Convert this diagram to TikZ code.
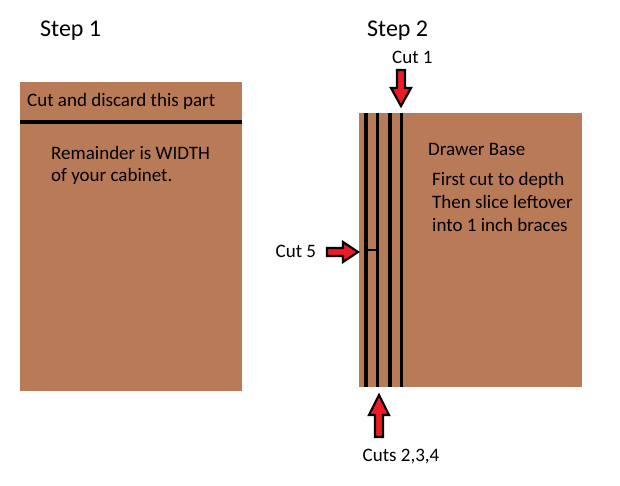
\documentclass[tikz,border=0pt]{standalone}
\usepackage{fontspec}
\setmainfont{Carlito}
\definecolor{wood}{RGB}{185,122,87}
\definecolor{cutred}{RGB}{237,28,36}
\begin{document}
\begin{tikzpicture}[x=1pt,y=-1pt,
  board/.style={fill=wood,draw=none},
  cutline/.style={draw=black,line width=3.2pt},
  blockarrow/.style={fill=cutred,draw=black,line width=2.2pt,line join=miter},
  lbl/.style={anchor=base west,inner sep=0pt,font=\fontsize{19}{22}\selectfont},
  steplbl/.style={anchor=base west,inner sep=0pt,font=\fontsize{24}{28}\selectfont}]
\useasboundingbox[fill=white] (0,0) rectangle (620,486);
% Step 1
\node[steplbl] (s1) at (40,37) {Step 1};
\fill[board] (20,82) rectangle (242,391);
\coordinate (l1) at (20,122);
\coordinate (l2) at (242,122);
\draw[cutline] (l1) -- (l2);
\node[lbl] (discard) at (27,106.5) {Cut and discard this part};
\node[lbl] (rem1) at (51,160) {Remainder is WIDTH};
\node[lbl] (rem2) at (51,182) {of your cabinet.};
% Step 2
\node[steplbl] (s2) at (367,37) {Step 2};
\fill[board] (359,113) rectangle (582,387);
\foreach \x/\n in {366/a,377.5/b,390/c,401.5/d}{
  \coordinate (t\n) at (\x,113);
  \coordinate (b\n) at (\x,387);
  \draw[cutline] (t\n) -- (b\n);
}
\coordinate (h1) at (366,250);
\coordinate (h2) at (377.5,250);
\draw[draw=black,line width=2.4pt] (h1) -- (h2);
\node[lbl] (db) at (428,155.5) {Drawer Base};
\node[lbl] (f1) at (432,185.5) {First cut to depth};
\node[lbl] (f2) at (432,208) {Then slice leftover};
\node[lbl] (f3) at (432,231) {into 1 inch braces};
% arrows
\node[lbl] (c1) at (392,64) {Cut 1};
\draw[blockarrow] (397,70) -- (405,70) -- (405,88) -- (411,88) -- (401,106) -- (391,88) -- (397,88) -- cycle;
\node[lbl] (c5) at (275.5,257) {Cut 5};
\draw[blockarrow] (327,248) -- (343,248) -- (343,242) -- (358,252) -- (343,262) -- (343,256) -- (327,256) -- cycle;
\node[lbl] (c234) at (362.5,461) {Cuts 2,3,4};
\draw[blockarrow] (375,437) -- (383,437) -- (383,415) -- (389,415) -- (379,395) -- (369,415) -- (375,415) -- cycle;
\end{tikzpicture}
\end{document}
